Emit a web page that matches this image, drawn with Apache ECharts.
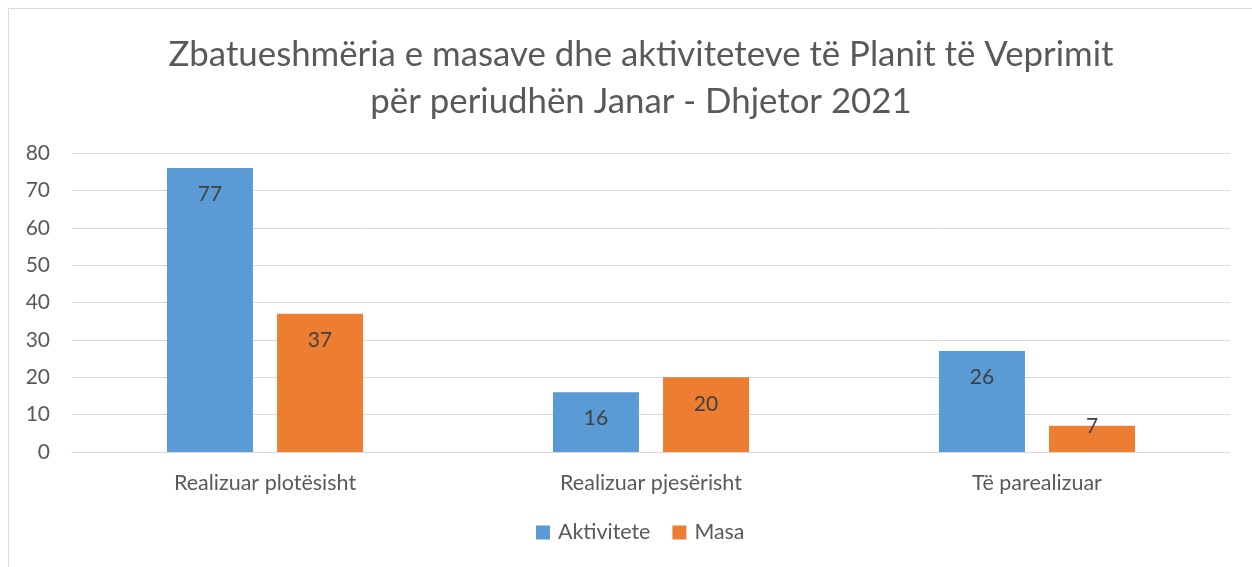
<!DOCTYPE html>
<html><head><meta charset="utf-8">
<script src="https://cdn.jsdelivr.net/npm/echarts@6/dist/echarts.min.js"></script>
<style>html,body{margin:0;padding:0;background:#fff}#c{width:1252px;height:567px}</style>
</head><body><div id="c"></div>
<script>
const titleLines = ['Zbatueshmëria e masave dhe aktiviteteve të Planit të Veprimit', 'për periudhën Janar - Dhjetor 2021'];
const categories = ['Realizuar plotësisht', 'Realizuar pjesërisht', 'Të parealizuar'];
const seriesNames = ['Aktivitete', 'Masa'];
const aktiviteteValues = [76, 16, 27];
const aktiviteteLabels = [77, 16, 26];
const masaValues = [37, 20, 7];
const masaLabels = [37, 20, 7];
const yTicks = [0, 10, 20, 30, 40, 50, 60, 70, 80];

const font = 'Lato, "Open Sans", sans-serif';
const chart = echarts.init(document.getElementById('c'));
const lbl = (arr) => ({
  show: true, position: 'insideTop', distance: 16,
  formatter: p => String(arr[p.dataIndex]),
  color: '#404040', fontSize: 21, fontFamily: font
});
const items = (vals) => vals.map(v => v < 10 ? {value: v, label: {position: 'top', distance: -11}} : v);
chart.setOption({
  animation: false,
  graphic: [{type: 'rect', shape: {x: 8.5, y: 8.5, width: 1270, height: 620}, style: {fill: 'none', stroke: '#d9d9d9', lineWidth: 1}}],
  title: {
    text: titleLines.join('\n'), left: 636, textAlign: 'center', top: 26,
    textStyle: {fontFamily: font, fontSize: 34.8, fontWeight: 'normal', color: '#595959', lineHeight: 47}
  },
  legend: {
    bottom: 19, left: 531, itemWidth: 14, itemHeight: 14, itemGap: 22,
    icon: 'rect',
    textStyle: {fontFamily: font, fontSize: 21.4, color: '#595959', padding: [0, 0, 0, 3]},
    data: seriesNames
  },
  grid: {left: 72, right: 22, top: 153, bottom: 115, containLabel: false},
  xAxis: {
    type: 'category', data: categories,
    axisLine: {lineStyle: {color: '#d9d9d9', width: 1}}, axisTick: {show: false},
    axisLabel: {fontFamily: font, fontSize: 21.5, color: '#595959', margin: 20}
  },
  yAxis: {
    type: 'value', min: 0, max: 80, interval: 10,
    axisLine: {show: false}, axisTick: {show: false},
    splitLine: {lineStyle: {color: '#d9d9d9', width: 1}},
    axisLabel: {fontFamily: font, fontSize: 21, color: '#595959', margin: 22}
  },
  series: [
    {name: seriesNames[0], type: 'bar', data: items(aktiviteteValues), barWidth: 86, barGap: '28%',
     itemStyle: {color: '#5B9BD5'}, label: lbl(aktiviteteLabels)},
    {name: seriesNames[1], type: 'bar', data: items(masaValues), barWidth: 86,
     itemStyle: {color: '#ED7D31'}, label: lbl(masaLabels)}
  ]
});
</script></body></html>
